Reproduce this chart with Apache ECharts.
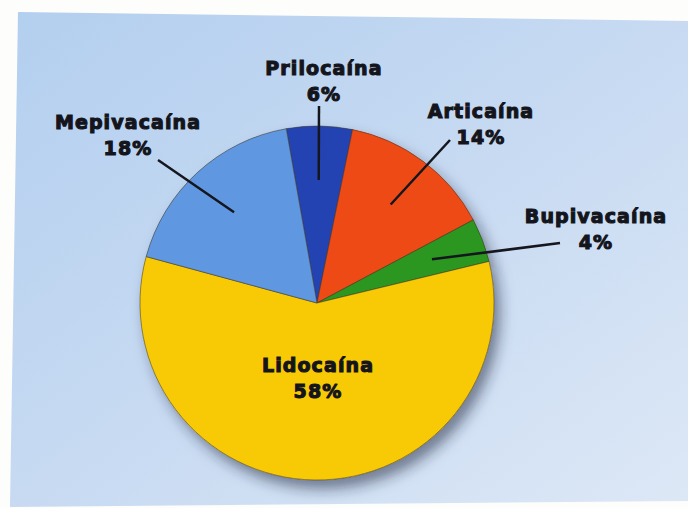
<!DOCTYPE html>
<html>
<head>
<meta charset="utf-8">
<script src="https://cdn.jsdelivr.net/npm/echarts@6/dist/echarts.min.js"></script>
<style>
  html, body { margin: 0; padding: 0; background: #fdfdfb; }
  #chart { width: 688px; height: 508px; }
  #chart text { letter-spacing: 1.1px; }
</style>
</head>
<body>
<div id="chart"></div>
<script>
// Share of local anaesthetics used, in percent (clockwise from the top)
const anesthetics = ['Prilocaína', 'Articaína', 'Bupivacaína', 'Lidocaína', 'Mepivacaína'];
const sharePct = [6, 14, 4, 58, 18];
const sliceColors = ['#2443b3', '#ee4a16', '#2b9620', '#f8ca06', '#5f97e0'];

// Label centres and the outer end of each leader line
const labelSpots = [[324, 81], [481, 124], [596, 229], [318, 378], [128, 135]];
const leaderEnds = [[319, 106], [450, 140], [560, 243], null, [158, 160]];
const insideIndex = anesthetics.indexOf('Lidocaína');

const center = [317, 303];
const labelFont = {
  color: '#14151c',
  fontFamily: 'DejaVu Sans',
  fontWeight: 'bold',
  fontSize: 19,
  lineHeight: 26,
  textBorderColor: '#14151c',
  textBorderWidth: 1.1,
  formatter: '{b}\n{c}%'
};

const sliceData = anesthetics.map((name, i) => ({
  name: name,
  value: sharePct[i],
  itemStyle: { color: sliceColors[i] }
}));

const chart = echarts.init(document.getElementById('chart'), null, { renderer: 'svg' });

chart.setOption({
  backgroundColor: '#fdfdfb',
  animation: false,
  graphic: [{
    type: 'polygon',
    z: -10,
    silent: true,
    shape: { points: [[18, 12], [688, 21], [688, 501], [10, 507]] },
    style: {
      fill: new echarts.graphic.LinearGradient(0, 0, 1, 1, [
        { offset: 0, color: '#b3cfef' },
        { offset: 0.5, color: '#c7daf2' },
        { offset: 1, color: '#dde8f6' }
      ])
    }
  }],
  series: [
    {
      // drop shadow underneath the pie
      type: 'pie',
      name: 'shadow',
      silent: true,
      z: 1,
      center: center,
      radius: 177,
      startAngle: 100,
      clockwise: true,
      label: { show: false },
      labelLine: { show: false },
      itemStyle: {
        shadowBlur: 14,
        shadowOffsetX: 6,
        shadowOffsetY: 9,
        shadowColor: 'rgba(30,40,60,0.55)'
      },
      data: sliceData
    },
    {
      type: 'pie',
      name: 'Anestésicos',
      silent: true,
      z: 2,
      center: center,
      radius: 177,
      startAngle: 100,
      clockwise: true,
      itemStyle: { borderColor: 'rgba(70,60,40,0.55)', borderWidth: 1 },
      label: Object.assign({ show: false, position: 'inside' }, labelFont),
      labelLine: { show: false },
      labelLayout: function (p) {
        const s = labelSpots[p.dataIndex];
        return { x: s[0], y: s[1], align: 'center', verticalAlign: 'middle' };
      },
      data: sliceData.map((d, i) => i === insideIndex
        ? Object.assign({}, d, { label: { show: true } })
        : d)
    },
    {
      // invisible inner ring that carries the outside labels and leader lines
      type: 'pie',
      name: 'labels',
      silent: true,
      z: 3,
      center: center,
      radius: 123,
      startAngle: 100,
      clockwise: true,
      itemStyle: { color: 'rgba(0,0,0,0)' },
      label: Object.assign({ show: true, position: 'outside' }, labelFont),
      labelLine: {
        show: true,
        length: 10,
        length2: 0,
        lineStyle: { color: '#15161e', width: 2.5 }
      },
      labelLayout: function (p) {
        const s = labelSpots[p.dataIndex];
        const end = leaderEnds[p.dataIndex];
        const out = { x: s[0], y: s[1], align: 'center', verticalAlign: 'middle' };
        if (end && p.labelLinePoints) {
          out.labelLinePoints = [p.labelLinePoints[0], end];
        }
        return out;
      },
      data: sharePct.map((v, i) => i === insideIndex
        ? { name: anesthetics[i], value: v, label: { show: false }, labelLine: { show: false } }
        : { name: anesthetics[i], value: v })
    }
  ]
});
</script>
</body>
</html>
